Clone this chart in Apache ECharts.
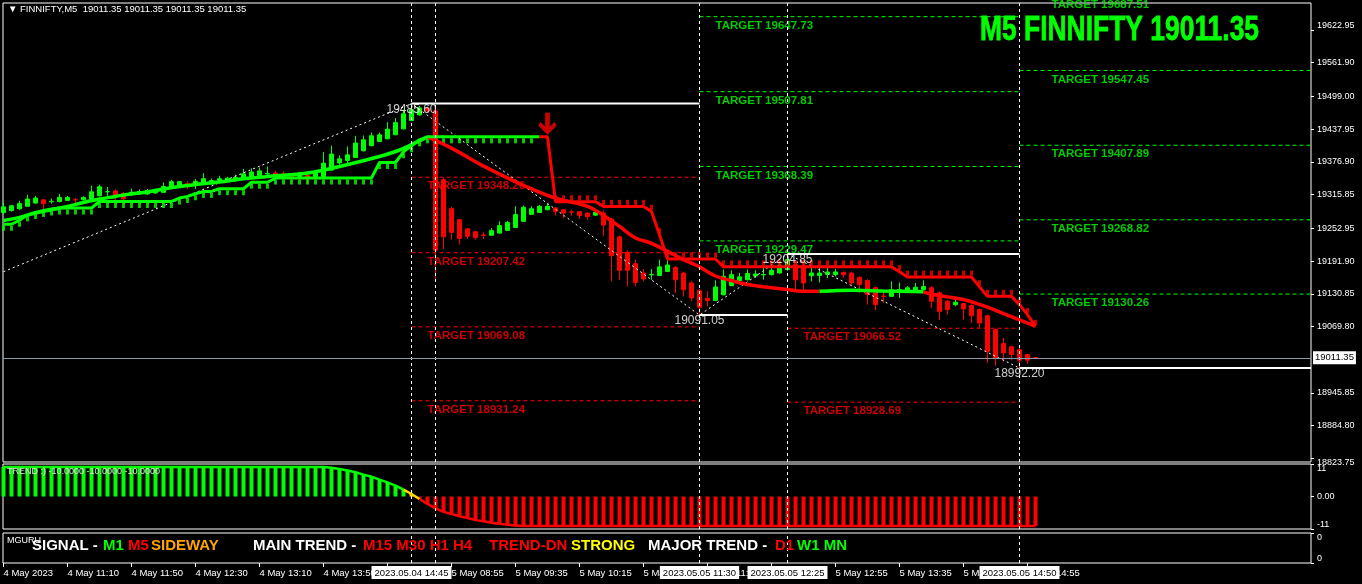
<!DOCTYPE html>
<html><head><meta charset="utf-8">
<script src="https://cdn.jsdelivr.net/npm/echarts@6/dist/echarts.min.js"></script>
<style>html,body{margin:0;padding:0;background:#000;overflow:hidden}#c{width:1362px;height:584px}</style>
</head><body><div id="c"></div><script>
// ---------------- DATA ----------------
const sessions = [
  {date:'2023.05.04', tick:'4 May', start:'10:30', bars:54},
  {date:'2023.05.05', tick:'5 May', start:'08:45', bars:110}
];
const firstTickLabel = '4 May 2023';
const xTickBars = [0,8,16,24,32,40,48,56,64,72,80,88,96,104,112,120,128];
const yTickLabels = [19622.95,19561.90,19499.00,19437.95,19376.90,19315.85,19252.95,19191.90,19130.85,19069.80,18945.85,18884.80,18823.75];
const priceMin = 18817, priceMax = 19673.25;
const lastPrice = 19011.35;
const symbolTitle = 'FINNIFTY,M5';

// OHLC: [open, close, low, high]
const ohlc = [
[19282,19293,19280,19301],[19286,19295,19284,19297],[19289.5,19299,19287.5,19304.5],[19294,19307.5,19293,19315.5],
[19300,19309.5,19299,19313.5],[19306,19299,19289,19307.5],[19302.5,19303.5,19299,19308.5],[19303,19310.5,19301,19317.5],
[19305,19310.5,19304,19313.5],[19306.5,19306,19300,19310],[19306.3,19310.5,19304.5,19312.5],[19307.5,19321,19306,19332.5],
[19313.5,19330.5,19312.5,19334.5],[19321,19321.5,19313.5,19330],[19322.5,19311.5,19300,19325],[19318,19308,19299,19320.5],
[19315.5,19320,19313.5,19327],[19317,19321.5,19315.5,19325],[19317,19323.5,19315.5,19326],[19319,19325,19317,19327],
[19320,19331,19319,19338.5],[19327.5,19340,19326.5,19343.5],[19332.5,19340,19330.5,19341.5],[19336,19335.5,19326,19340.5],
[19334,19340.5,19326,19345],[19335.5,19345.5,19334,19356],[19336,19342,19335,19345.5],[19339,19345.5,19338,19351],
[19341.5,19346.5,19341,19349],[19342,19348,19341.5,19353],[19345.5,19354.5,19343.5,19364],[19348,19358,19347,19365],
[19351.5,19360,19351,19366.5],[19354.5,19355,19349.5,19368.5],[19356,19349.5,19345.5,19360.5],[19354.5,19348.5,19343.5,19359],
[19353,19346.5,19342,19356],[19349.7,19356,19348.5,19358],[19351.5,19345.5,19336,19354.5],[19349.7,19358,19349,19360.3],
[19349.5,19374.5,19349,19395],[19361.5,19391.5,19360,19407],[19375,19382.5,19371.5,19389],[19379.5,19390,19373.5,19405.5],
[19385,19412,19384.5,19425.5],[19397.5,19418,19396.5,19426],[19407,19425.5,19406,19431.5],[19415,19427.5,19414,19431.5],
[19420,19438,19419,19451],[19427.5,19450,19426.5,19458.5],[19438.5,19466.5,19437.5,19474],[19454,19474,19453,19485.6],
[19464.5,19477.5,19463,19481.5],[19477,19472,19468,19480],[19472,19212,19154,19478],[19343.5,19237,19214.5,19347],
[19289.5,19245.5,19231.5,19293],[19269,19234,19222.5,19270],[19252,19238,19233,19253],[19246.5,19236,19231.5,19247.5],
[19240.5,19239.5,19233,19245.5],[19240,19248.5,19239,19253.5],[19244,19258,19243,19266],[19249,19264,19248,19267],
[19254.5,19278.5,19254,19294],[19266,19292,19265,19295.5],[19279,19289.5,19278,19294],[19282.5,19294,19281.5,19296.5],
[19287.5,19294,19287,19299],[19291,19284.5,19276.5,19293],[19287.5,19281.5,19272,19289],[19283.5,19283,19276.5,19287.5],
[19284,19277,19270.5,19285],[19281.5,19275,19269,19283],[19277.5,19282.5,19276.5,19289],[19281.5,19259,19239,19286],
[19270,19202,19154,19272],[19237,19174.5,19157,19239],[19208,19174.5,19144.5,19212],[19187,19152,19144.5,19194.5],
[19169.5,19158.5,19154,19177],[19166,19167,19157,19177],[19165,19181,19164,19194.5],[19172.5,19184.5,19171.5,19193],
[19180,19157,19132.5,19183],[19169.5,19138.5,19126,19172],[19151,19123,19117,19155],[19136.5,19105.5,19091.05,19140],
[19122,19118,19107.5,19135.5],[19118.5,19143.5,19117,19156],[19129,19163.5,19128,19176],[19146,19166.5,19145,19174.5],
[19155.5,19162.5,19154,19170],[19157,19168.5,19156,19176],[19164,19167.8,19160.5,19174.5],[19166,19166.8,19157,19179],
[19166.5,19174.5,19165,19179.5],[19169.5,19184,19168.5,19191],[19176,19194.5,19174,19204.85],[19185,19157,19138.5,19191],
[19182,19151,19132.5,19194],[19164.5,19169.5,19154,19179.5],[19165,19169.5,19152,19179.5],[19167,19171.5,19160,19179],
[19166.5,19171.5,19163,19177],[19170.8,19166.5,19160.5,19172],[19169.5,19151,19146,19172],[19161.5,19148,19132.5,19163],
[19155.5,19129.5,19110.5,19158],[19142,19110.5,19100,19144],[19126.5,19126,19114,19135.5],[19126,19138.5,19125,19154],
[19133.5,19138.5,19123,19152],[19135.5,19142,19133,19145],[19134.5,19143,19133,19151],[19138.5,19144.5,19137,19156],
[19142,19117,19104.5,19145],[19132.5,19098,19082.5,19135],[19117,19101.5,19092,19119],[19110.5,19115,19107.5,19123],
[19112.5,19102.5,19082.5,19114],[19109,19090,19076.5,19111],[19101.5,19076.5,19067,19103],[19090,19023.5,19002,19092],
[19064,19011.5,18996,19066],[19038,19020.5,19004.5,19048.5],[19032,19017.5,19008,19034],[19026.5,19007,18992.2,19029],
[19017.5,19007,19000.5,19019],[19012,19011.35,19010,19013]
];

// moving average (bar, value)
const maPoints = [[0,19267.7],[2,19273.3],[4,19281.5],[6,19287.6],[8,19293.8],[10,19301.2],[12,19307.6],[14,19312.4],
[16,19317.4],[18,19320.6],[20,19326.2],[22,19331],[24,19334.5],[27,19339.2],[30,19345.4],[34,19351],[38,19356],
[42,19368.3],[47,19387],[49,19396.2],[51,19409],[53,19423.5],[56,19402.6],[60,19369],[65,19333],[69,19309],[73,19294],
[75,19277],[77,19256.5],[79,19235],[81,19225],[83,19210],[85,19194.5],[87,19181],[89,19164],[91,19155.5],[93,19148],
[95,19144],[98,19138.6],[100,19135.5],[102,19135.4],[106,19137.5],[110,19136],[115,19134.5],[116,19130],[118,19125],
[120,19120],[122,19111],[124,19100],[126,19088],[127,19082],[129,19070]];
const maTrend = [{from:0,to:53,up:true},{from:53,to:102,up:false},{from:102,to:115,up:true},{from:115,to:129,up:false}];

// trailing stop line, one value per bar
const stopLine = [19260.5,19260.5,19268,19278,19282.5,19286.3,19289,
19290.8,19290.8,19290.8,19290.8,19290.8,
19303,19303,19303,19303,19303,19303,19303,19303,19303,19303,
19309.4,19312.4,19317.4,19321.7,19321.7,19326.8,19326.8,19326.8,19326.8,
19338.9,19338.9,19338.9,
19346.7,19346.7,19346.7,19346.7,19346.7,19346.7,19346.7,19346.7,19346.7,19346.7,19346.7,19346.7,19346.7,
19375.7,19375.7,19375.7,19395.7,19407,19418,
19423.6,19423.6,19423.6,19423.6,19423.6,19423.6,19423.6,19423.6,19423.6,19423.6,19423.6,19423.6,19423.6,19423.6,19423.6,
19423.6,
19302.5,19302.5,19302.5,19302.5,19302.5,19302.5,
19293.8,19293.8,19293.8,19293.8,19293.8,19293.8,
19284.5,19241,
19195.8,19195.8,19195.8,19195.8,19195.8,19195.8,19195.8,
19181,19181,19181,19181,19181,19181,19181,19181,19181,19181,19181,19181,19181,19181,19181,19181,19181,19181,19181,19181,19181,19181,
19172,
19162,19162,19162,19162,19162,19162,19162,19162,19162,
19144,19126,19126,19126,19126,19110.5,19092,19070];
const stopUpLastBar = 67;   // support (green) until this bar
const sellArrowBar = 68;    // sell signal

// zigzag pivots
const zigzag = [[0,19172],[51,19485.6],[87,19091.05],[98,19204.85],[127,18992.2]];
const pivotBars = [51,87,98,127];
const pivotPrices = [19485.6,19091.05,19204.85,18992.2];
const daySeparatorBars = [54];

// targets
const sellTargetsA = [19348.26,19207.42,19069.08,18931.24];          // from pivot 51 to 87
const buyTargetsA = [19647.73,19507.81,19368.39,19229.47];           // from pivot 87 to 127
const sellTargetsB = [19066.52,18928.69];                            // from pivot 98 to 127
const buyTargetsB = [19687.51,19547.45,19407.89,19268.82,19130.26];  // from pivot 127 on

// TREND histogram
const trendValues = [10,10,10,10,10,10,10,10,10,10,10,10,10,10,10,10,10,10,10,10,
10,10,10,10,10,10,10,10,10,10,10,10,10,10,10,10,10,10,10,10,
10,9.7,9.3,8.8,8.2,7.4,6.7,5.7,4.8,3.7,2.3,0.85,-0.85,-2.5,-4,-5.2,-5.9,-6.7,-7.3,-8,
-8.4,-8.9,-9.2,-9.6,-9.8,-10,-10,-10,-10,-10,-10,-10,-10,-10,-10,-10,-10,-10,-10,-10,
-10,-10,-10,-10,-10,-10,-10,-10,-10,-10,-10,-10,-10,-10,-10,-10,-10,-10,-10,-10,
-10,-10,-10,-10,-10,-10,-10,-10,-10,-10,-10,-10,-10,-10,-10,-10,-10,-10,-10,-10,
-10,-10,-10,-10,-10,-10,-10,-10,-10,-10];
const trendTurnBar = 51;
const trendLabel = 'TREND :) -10.0000 -10.0000 -10.0000';

// ---------------- BUILD ----------------
const categories = [], tickNames = [];
sessions.forEach(s => {
  let [h, m] = s.start.split(':').map(Number);
  for (let i = 0; i < s.bars; i++) {
    const t = String(h).padStart(2,'0') + ':' + String(m).padStart(2,'0');
    categories.push(s.date + ' ' + t); tickNames.push(s.tick + ' ' + t);
    m += 5; if (m >= 60) { m -= 60; h++; }
  }
});
const BAR_PX = 8, GRID_W = 1308;
const X_MIN = -0.0625, X_MAX = X_MIN + GRID_W / BAR_PX;

const GREEN = '#00ff00', RED = '#ff0000', WHITE = '#ffffff', YELLOW = '#ffd700';
const FONT = '"Liberation Sans", Arial, sans-serif';

const series = [];
const plain = {silent: true, animation: false};
function hLine(xi, from, to, v, color, width, dash) {
  series.push(Object.assign({type:'line', xAxisIndex:xi, yAxisIndex:xi, data:[[from,v],[to,v]], symbol:'none',
    lineStyle:{color, width, type: dash || 'solid'}}, plain));
}
function targetSet(values, from, to, labelBar, color) {
  values.forEach(v => hLine(0, from, to, v, color, 1, [4,3]));
  series.push(Object.assign({type:'scatter', xAxisIndex:0, yAxisIndex:0, clip:false, symbolSize:0, z:3,
    data: values.map(v => [labelBar, v]),
    label:{show:true, position:[0,3], align:'left', verticalAlign:'top', color, fontSize:11.5, fontWeight:'bold', fontFamily:FONT,
      formatter: p => 'TARGET ' + p.value[1].toFixed(2)}}, plain));
}
targetSet(sellTargetsA, pivotBars[0], pivotBars[1], pivotBars[0] + 2, RED);
targetSet(buyTargetsA, pivotBars[1], pivotBars[3], pivotBars[1] + 2, GREEN);
targetSet(sellTargetsB, pivotBars[2], pivotBars[3], pivotBars[2] + 2, RED);
targetSet(buyTargetsB, pivotBars[3], X_MAX, pivotBars[3] + 4, GREEN);

// zigzag
series.push(Object.assign({type:'line', xAxisIndex:0, yAxisIndex:0, data:zigzag, symbol:'none',
  lineStyle:{color:WHITE, width:1, type:[2,3]}}, plain));
// pivot levels
pivotBars.forEach((b, i) => hLine(0, b, i < pivotBars.length - 1 ? pivotBars[i+1] : X_MAX, pivotPrices[i], WHITE, 2));
series.push(Object.assign({type:'scatter', xAxisIndex:0, yAxisIndex:0, symbolSize:0, z:3,
  data: pivotBars.map((b, i) => [b, pivotPrices[i]]),
  label:{show:true, position:'bottom', distance:0, color:WHITE, fontSize:12, fontFamily:FONT, formatter: p => p.value[1].toFixed(2)}}, plain));

const vLineStyle = {color:WHITE, width:1, type:[3,3]};
const vLines = pivotBars.concat(daySeparatorBars).map(b => ({xAxis:b}));

// candles
series.push(Object.assign({type:'candlestick', xAxisIndex:0, yAxisIndex:0, barWidth:4,
  data: ohlc.map((d, i) => [i, d[0], d[1], d[2], d[3]]),
  encode:{x:0, y:[1,2,3,4]},
  itemStyle:{color:GREEN, color0:RED, borderColor:GREEN, borderColor0:RED, borderColorDoji:GREEN, borderWidth:1},
  markLine:{symbol:'none', silent:true, animation:false, label:{show:false}, lineStyle:vLineStyle,
    data: vLines.concat([{yAxis:lastPrice, lineStyle:{color:'#8c98a4', width:1, type:'solid'},
      label:{show:true, position:'end', distance:2, formatter: lastPrice.toFixed(2), backgroundColor:WHITE, color:'#000',
        padding:[2,2,1,2], fontSize:9.5, fontFamily:FONT}}])}
}, plain));

// MA
maTrend.forEach(s => {
  series.push(Object.assign({type:'line', xAxisIndex:0, yAxisIndex:0, smooth:0.35, symbol:'none',
    data: maPoints.filter(p => p[0] >= s.from && p[0] <= s.to),
    lineStyle:{color: s.up ? GREEN : RED, width:3.5}}, plain));
});

// trailing stop lines
const stopUp = stopLine.map((v, i) => i <= stopUpLastBar ? [i, v] : null).filter(Boolean);
const stopDn = stopLine.map((v, i) => i >= stopUpLastBar ? [i, v] : null).filter(Boolean);
series.push(Object.assign({type:'line', xAxisIndex:0, yAxisIndex:0, symbol:'none', data:stopUp, lineStyle:{color:GREEN, width:3}}, plain));
series.push(Object.assign({type:'line', xAxisIndex:0, yAxisIndex:0, symbol:'none', data:stopDn, lineStyle:{color:RED, width:3}}, plain));
series.push(Object.assign({type:'scatter', xAxisIndex:0, yAxisIndex:0, symbol:'rect', symbolSize:[3,5], symbolOffset:[0,4],
  itemStyle:{color:GREEN}, data: stopUp.filter(p => p[0] < stopUpLastBar)}, plain));
series.push(Object.assign({type:'scatter', xAxisIndex:0, yAxisIndex:0, symbol:'rect', symbolSize:[3,5], symbolOffset:[0,-4],
  itemStyle:{color:RED}, data: stopDn.filter(p => p[0] > sellArrowBar)}, plain));
// sell arrow
series.push(Object.assign({type:'scatter', xAxisIndex:0, yAxisIndex:0,
  symbol:'path://M7,0 L12,0 L12,14 L17,9 L19,13 L9.5,22 L0,13 L2,9 L7,14 Z', symbolSize:[18,22], symbolOffset:[0,-13],
  itemStyle:{color:RED}, data:[[sellArrowBar, stopLine[sellArrowBar]]]}, plain));

// TREND pane
const trendColor = (v, i) => i === trendTurnBar ? YELLOW : (v >= 0 ? GREEN : RED);
series.push(Object.assign({type:'bar', xAxisIndex:1, yAxisIndex:1, barWidth:4,
  data: trendValues.map((v, i) => ({value:[i, v], itemStyle:{color: trendColor(v, i)}})),
  markLine:{symbol:'none', silent:true, animation:false, label:{show:false}, lineStyle:vLineStyle, data: vLines}
}, plain));
series.push(Object.assign({type:'line', xAxisIndex:1, yAxisIndex:1, symbol:'none',
  data: trendValues.map((v, i) => [i, v]).filter(p => p[0] <= trendTurnBar - 1), lineStyle:{color:GREEN, width:2.5}}, plain));
series.push(Object.assign({type:'line', xAxisIndex:1, yAxisIndex:1, symbol:'none',
  data: trendValues.map((v, i) => [i, v]).filter(p => p[0] >= trendTurnBar - 1 && p[0] <= trendTurnBar + 1), lineStyle:{color:YELLOW, width:2.5}}, plain));
series.push(Object.assign({type:'line', xAxisIndex:1, yAxisIndex:1, symbol:'none',
  data: trendValues.map((v, i) => [i, v]).filter(p => p[0] >= trendTurnBar + 1), lineStyle:{color:RED, width:2.5}}, plain));

// bottom pane: vertical lines with time boxes
series.push(Object.assign({type:'line', xAxisIndex:2, yAxisIndex:2, data:[], symbol:'none',
  markLine:{symbol:'none', silent:true, animation:false, lineStyle:vLineStyle,
    data: pivotBars.map(b => ({xAxis:b, label:{show:true, position:'start', distance:3, formatter: categories[b],
      backgroundColor:WHITE, color:'#000', padding:[2,3,1,3], fontSize:9.5, fontFamily:FONT}}))
      .concat(daySeparatorBars.map(b => ({xAxis:b, label:{show:false}})))}
}, plain));

function xAxis(gi, withLabels) {
  return {type:'value', gridIndex:gi, min:X_MIN, max:X_MAX, axisLine:{show:false, onZero:false}, splitLine:{show:false},
    axisTick:{show:withLabels, customValues:xTickBars, length:4, lineStyle:{color:WHITE}},
    axisLabel:{show:withLabels, customValues:xTickBars, align:'left', margin:5, color:WHITE, fontSize:9.5, fontFamily:FONT,
      formatter: v => v === 0 ? firstTickLabel : tickNames[v]}};
}
function yAxis(gi, min, max, vals, fmt) {
  return {type:'value', gridIndex:gi, position:'right', min, max, axisLine:{show:false, onZero:false}, splitLine:{show:false},
    axisTick:{show:true, customValues:vals, length:3, lineStyle:{color:WHITE}},
    axisLabel:{customValues:vals, formatter:fmt, color:WHITE, fontSize:9, fontFamily:FONT, margin:6,
      verticalAlignMaxLabel:'top', verticalAlignMinLabel:'bottom'}};
}

const option = {
  backgroundColor:'#000', animation:false,
  grid:[
    {left:3, top:3, width:GRID_W, height:459, show:true, borderColor:WHITE, borderWidth:1, backgroundColor:'transparent'},
    {left:3, top:464, width:GRID_W, height:65, show:true, borderColor:WHITE, borderWidth:1, backgroundColor:'transparent'},
    {left:3, top:533, width:GRID_W, height:30, show:true, borderColor:WHITE, borderWidth:1, backgroundColor:'transparent'}
  ],
  xAxis:[xAxis(0,false), xAxis(1,false), xAxis(2,true)],
  yAxis:[
    yAxis(0, priceMin, priceMax, yTickLabels, v => v.toFixed(2)),
    yAxis(1, -11, 11, [-11,0,11], v => v === 0 ? '0.00' : String(v)),
    yAxis(2, 0, 1, [0,1], () => '0')
  ],
  series,
  graphic:[
    {type:'text', z:100, x:8, y:4, style:{text:'\u25BC ' + symbolTitle + '  ' + [lastPrice,lastPrice,lastPrice,lastPrice].map(v=>v.toFixed(2)).join(' '),
      fill:WHITE, font:'9.5px ' + FONT}},
    {type:'text', z:100, x:980, y:13, scaleX:0.755, style:{text:'M5 FINNIFTY ' + lastPrice.toFixed(2), fill:GREEN, font:'bold 35px ' + FONT,
      stroke:GREEN, lineWidth:0.8}},
    {type:'text', z:100, x:7, y:467, style:{text:trendLabel, fill:'#e6e6e6', font:'9px ' + FONT}},
    {type:'text', z:100, x:7, y:536, style:{text:'MGURU', fill:WHITE, font:'9px ' + FONT}},
    {type:'text', z:100, x:32, y:538, style:{
      text:'{a|SIGNAL - }{b|M1}{c|M5}{d|SIDEWAY}{e|MAIN TREND -}{f|M15 M30 H1 H4}{g|TREND-DN}{h|STRONG}{i|MAJOR TREND -}{j|D1}{k|W1 MN}',
      font:'bold 15px ' + FONT, fill:WHITE,
      rich:{
        a:{fill:WHITE, width:71, font:'bold 15px ' + FONT},
        b:{fill:GREEN, width:25, font:'bold 15px ' + FONT},
        c:{fill:RED, width:23, font:'bold 15px ' + FONT},
        d:{fill:'#ffa500', width:102, font:'bold 15px ' + FONT},
        e:{fill:WHITE, width:110, font:'bold 15px ' + FONT},
        f:{fill:RED, width:126, font:'bold 15px ' + FONT},
        g:{fill:RED, width:82, font:'bold 15px ' + FONT},
        h:{fill:'#ffff00', width:77, font:'bold 15px ' + FONT},
        i:{fill:WHITE, width:127, font:'bold 15px ' + FONT},
        j:{fill:RED, width:22, font:'bold 15px ' + FONT},
        k:{fill:GREEN, width:50, font:'bold 15px ' + FONT}
      }}}
  ]
};
const chart = echarts.init(document.getElementById('c'), null, {renderer:'canvas'});
chart.setOption(option);
</script></body></html>
